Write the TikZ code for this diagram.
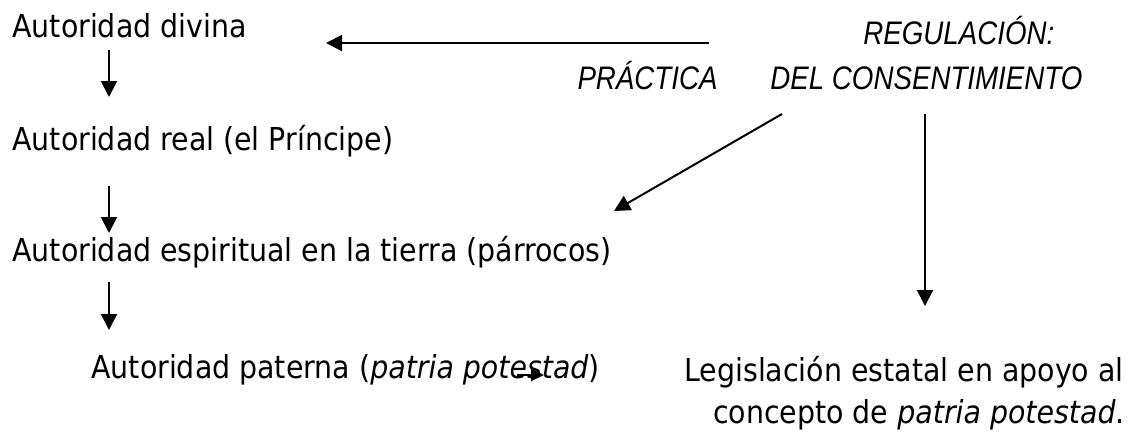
\documentclass[tikz,border=0pt]{standalone}
\usepackage{fontspec}
\setmainfont{DejaVuSansCondensed}[Extension=.ttf, ItalicFont=DejaVuSansCondensed-Oblique, BoldFont=DejaVuSansCondensed-Bold]
\newfontfamily\headfont{Liberation Sans}[FakeStretch=0.85]
\usetikzlibrary{arrows.meta,calc}
\tikzset{
	txt/.style={inner sep=0pt, font=\fontsize{15.8}{19}\selectfont},
	head/.style={inner sep=0pt, font=\headfont\itshape\fontsize{16.3}{19}\selectfont},
	arr/.style={line width=1pt, -{Triangle[length=8pt,width=8pt]}},
	smallarr/.style={line width=1pt, -{Triangle[length=6.5pt,width=6pt]}}
}

\begin{document}
\begin{tikzpicture}[x=0.5pt, y=-0.5pt]
			%%%%% START %%%%%
			\useasboundingbox (0, 0) rectangle (1135, 434);
			
			\node[txt, anchor=base west] (divina) at (12, 37) {Autoridad divina};
			\node[txt, anchor=base west] (real) at (12, 150) {Autoridad real (el Príncipe)};
			\node[txt, anchor=base west] (espiritual) at (12, 261) {Autoridad espiritual en la tierra (párrocos)};
			\node[txt, anchor=base west] (paterna) at (91, 378) {Autoridad paterna (\textit{patria potestad})};
			
			\node[txt, anchor=base east] (legis) at (1124, 381) {Legislación estatal en apoyo al};
			\node[txt, anchor=base east] (concepto) at (1125, 423) {concepto de \textit{patria potestad}.};
			
			\node[head, anchor=base west] (regul) at (863, 44) {REGULACIÓN:};
			\node[head, anchor=base east] (practica) at (718, 89) {PRÁCTICA};
			\node[head, anchor=base west] (consent) at (770, 89) {DEL CONSENTIMIENTO};
			
			\draw[arr] ($(divina.base west)+(97, 13)$) -- ($(real.base west)+(97, -53)$);
			\draw[arr] ($(real.base west)+(97, 36)$) -- ($(espiritual.base west)+(97, -28)$);
			\draw[arr] ($(espiritual.base west)+(97, 21)$) -- ($(paterna.base west)+(18, -48)$);
			
			\draw[arr] ($(regul.base west)+(-154, -1)$) -- ($(divina.base west)+(314, 6)$);
			\draw[arr] ($(consent.base west)+(12, 25)$) -- ($(espiritual.base west)+(602, -50)$);
			\draw[arr] ($(consent.base west)+(155, 25)$) -- ($(consent.base west)+(155, 217)$);
			
			\draw[smallarr] ($(paterna.base west)+(426, -3)$) -- ($(paterna.base west)+(453, -3)$);
			
			%%%%% END %%%%%
\end{tikzpicture}
\end{document}
